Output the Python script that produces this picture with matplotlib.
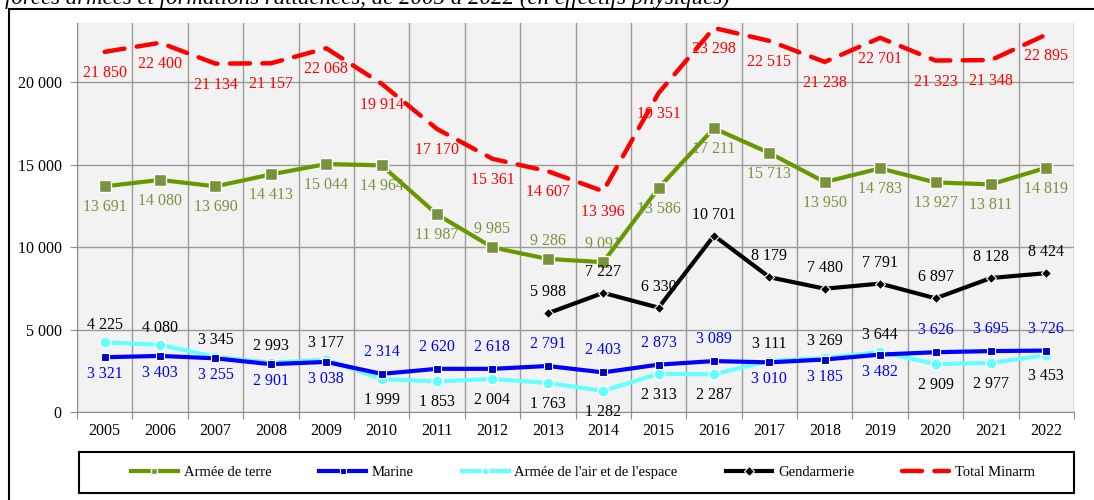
import numpy as np
import matplotlib.pyplot as plt
from matplotlib.patches import Rectangle
from matplotlib.ticker import FuncFormatter

years = list(range(2005, 2023))
terre = [13691, 14080, 13690, 14413, 15044, 14964, 11987, 9985, 9286, 9091,
         13586, 17211, 15713, 13950, 14783, 13927, 13811, 14819]
marine = [3321, 3403, 3255, 2901, 3038, 2314, 2620, 2618, 2791, 2403,
          2873, 3089, 3010, 3185, 3482, 3626, 3695, 3726]
air = [4225, 4080, 3345, 2993, 3177, 1999, 1853, 2004, 1763, 1282,
       2313, 2287, 3111, 3269, 3644, 2909, 2977, 3453]
gend = [None] * 8 + [5988, 7227, 6330, 10701, 8179, 7480, 7791, 6897, 8128, 8424]
total = [21850, 22400, 21134, 21157, 22068, 19914, 17170, 15361, 14607, 13396,
         19351, 23298, 22515, 21238, 22701, 21323, 21348, 22895]

# label above (+1) or below (-1) the point
terre_pos = [-1] * 7 + [1] * 3 + [-1] * 8
marine_pos = [-1] * 5 + [1] * 7 + [-1] * 3 + [1] * 3
air_pos = [1] * 5 + [-1] * 7 + [1] * 3 + [-1] * 3

plt.rcParams['font.family'] = ['Liberation Serif', 'DejaVu Serif']

def fmt(v):
    return f"{v:,}".replace(",", " ")

fig = plt.figure(figsize=(10.94, 5.0), dpi=100)
ax = fig.add_axes([77 / 1094, 88 / 500, 997 / 1094, 389 / 500])
ax.set_facecolor('#f2f2f2')

x = np.arange(len(years)) + 0.5
g = np.array([np.nan if v is None else v for v in gend], dtype=float)

ax.plot(x, total, color='#ff0000', lw=3.2, linestyle=(0, (4.5, 2.8)),
        dash_capstyle='round', label='Total Minarm', zorder=3)
ax.plot(x, terre, color='#669900', lw=3, marker='s', ms=8, mfc='#77933c',
        mec='white', mew=1, label='Armée de terre', zorder=4)
ax.plot(x, marine, color='#0000ff', lw=3, marker='s', ms=6, mfc='#0000cc',
        mec='white', mew=0.8, label='Marine', zorder=5)
ax.plot(x, air, color='#66ffff', lw=3, marker='o', ms=8, mfc='#66ffff',
        mec='white', mew=1, label="Armée de l'air et de l'espace", zorder=4)
ax.plot(x, g, color='black', lw=3, marker='D', ms=5, mfc='black',
        mec='white', mew=0.8, label='Gendarmerie', zorder=4)

fs = 11.5
for i in range(len(years)):
    ax.annotate(fmt(total[i]), (x[i], total[i]), xytext=(0, -21), textcoords='offset pixels',
                ha='center', va='center', color='#ff0000', fontsize=fs, zorder=6)
    ax.annotate(fmt(terre[i]), (x[i], terre[i]), xytext=(0, 18 if terre_pos[i] > 0 else -21),
                textcoords='offset pixels', ha='center', va='center', color='#77933c',
                fontsize=fs, zorder=6)
    ax.annotate(fmt(marine[i]), (x[i], marine[i]), xytext=(0, 22 if marine_pos[i] > 0 else -17),
                textcoords='offset pixels', ha='center', va='center', color='#0000ff',
                fontsize=fs, zorder=6)
    ax.annotate(fmt(air[i]), (x[i], air[i]), xytext=(0, 17 if air_pos[i] > 0 else -21),
                textcoords='offset pixels', ha='center', va='center', color='black',
                fontsize=fs, zorder=6)
    if gend[i] is not None:
        ax.annotate(fmt(gend[i]), (x[i], gend[i]), xytext=(0, 21), textcoords='offset pixels',
                    ha='center', va='center', color='black', fontsize=fs, zorder=6)

ax.set_xlim(0, len(years))
ax.set_ylim(0, 23600)
ax.set_yticks(range(0, 20001, 5000))
ax.yaxis.set_major_formatter(FuncFormatter(lambda v, p: fmt(int(v))))
ax.set_xticks(np.arange(len(years) + 1))
ax.set_xticklabels([])
ax.set_xticks(x, minor=True)
ax.set_xticklabels([str(y) for y in years], minor=True)
ax.tick_params(axis='x', which='minor', length=0, labelsize=fs, pad=8)
ax.tick_params(axis='x', which='major', length=5, color='#8c8c8c', direction='out')
ax.tick_params(axis='y', length=5, color='#8c8c8c', labelsize=fs, pad=6)
ax.grid(True, which='major', color='#9a9a9a', lw=1)
for s in ['top', 'right']:
    ax.spines[s].set_visible(False)
for s in ['left', 'bottom']:
    ax.spines[s].set_color('#8c8c8c')
ax.set_axisbelow(True)

handles, labels = ax.get_legend_handles_labels()
order = [1, 2, 3, 4, 0]
leg = fig.legend([handles[i] for i in order], [labels[i] for i in order],
                 loc='center', bbox_to_anchor=(118 / 1094, 7 / 500, 930 / 1094, 41 / 500),
                 ncol=5, frameon=False, fontsize=10.5, handlelength=3.2,
                 handletextpad=0.4, columnspacing=2.0, mode='expand', borderaxespad=0,
                 borderpad=0.9)
for h in leg.legend_handles:
    h.set_markersize(5)

# legend box spanning the plot area width
fig.add_artist(Rectangle((79 / 1094, 7 / 500), 995 / 1094, 41 / 500, transform=fig.transFigure,
                         fill=False, edgecolor='black', lw=1.5))
# outer frame
fig.add_artist(Rectangle((9 / 1094, -0.1), 1.2, 0.1 + 491 / 500, transform=fig.transFigure,
                         fill=False, edgecolor='black', lw=1.5, clip_on=False))
fig.text(5 / 1094, 1 - 4 / 500,
         "forces armées et formations rattachées, de 2005 à 2022 (en effectifs physiques)",
         fontsize=16.5, style='italic', ha='left', va='baseline')

fig.savefig('out.png', dpi=100)
